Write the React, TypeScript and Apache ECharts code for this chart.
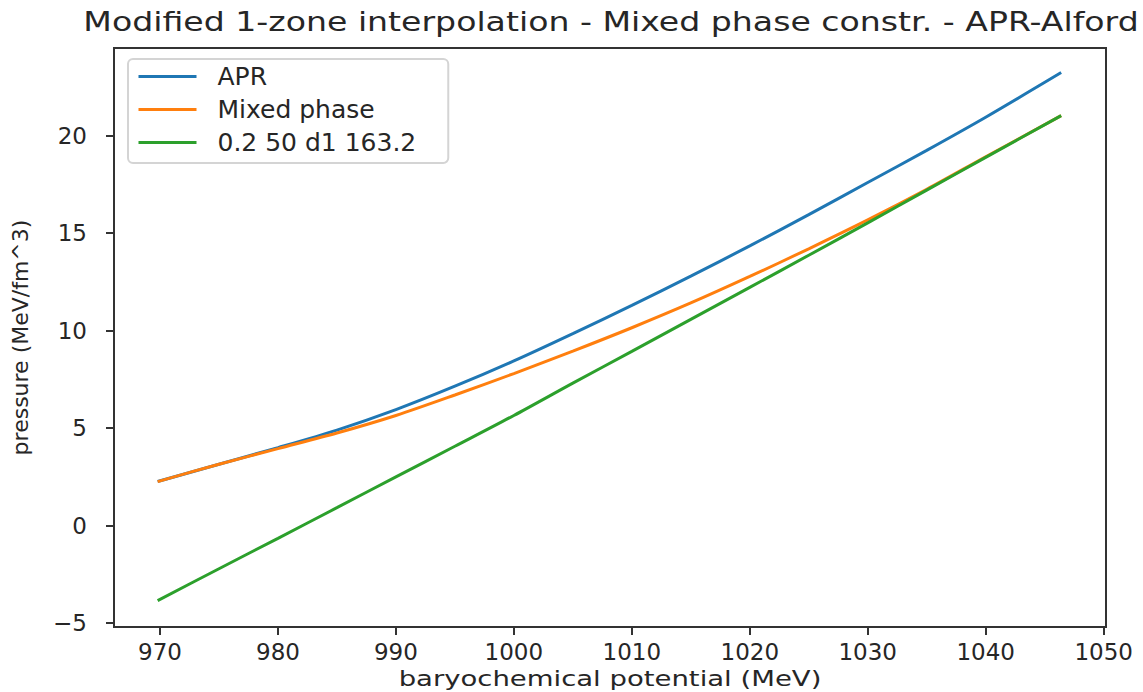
import React, { useEffect, useRef } from "react";
import * as echarts from "echarts";

const chartTitle = "Modified 1-zone interpolation - Mixed phase constr. - APR-Alford";
const xAxisTitle = "baryochemical potential (MeV)";
const yAxisTitle = "pressure (MeV/fm^3)";

const seriesNames = ["APR", "Mixed phase", "0.2 50 d1 163.2"];
const seriesColors = ["#1f77b4", "#ff7f0e", "#2ca02c"];

const muMeV = [969.8, 975, 980, 985, 990, 995, 1000, 1005, 1010, 1015, 1020, 1025, 1030, 1035, 1040, 1046.4];
const aprPressure = [2.26, 3.15, 4.0, 4.9, 5.95, 7.15, 8.45, 9.85, 11.3, 12.8, 14.35, 15.95, 17.6, 19.25, 20.95, 23.24];
const mixedPressure = [2.26, 3.15, 3.95, 4.75, 5.65, 6.7, 7.8, 8.95, 10.15, 11.42, 12.78, 14.2, 15.68, 17.25, 18.92, 21.03];
const fitPressure = [-3.85, -2.21, -0.65, 0.92, 2.5, 4.07, 5.65, 7.31, 8.94, 10.58, 12.22, 13.87, 15.53, 17.21, 18.89, 21.03];

const xTicks = [970, 980, 990, 1000, 1010, 1020, 1030, 1040, 1050];
const yTicks = [-5, 0, 5, 10, 15, 20];

const FONT = "DejaVu Sans";
const TEXT = "#262626";
const SPINE = "#333333";

export default function App() {
  const ref = useRef<HTMLDivElement>(null);

  useEffect(() => {
    if (!ref.current) return;
    const chart = echarts.init(ref.current, null, { renderer: "svg" });
    const allSeries = [aprPressure, mixedPressure, fitPressure];
    chart.setOption({
      animation: false,
      backgroundColor: "#ffffff",
      grid: {
        left: 114,
        right: 37,
        top: 48,
        bottom: 65,
        show: true,
        borderColor: SPINE,
        borderWidth: 2,
        backgroundColor: "transparent",
      },
      xAxis: {
        type: "value",
        min: 966.1,
        max: 1050.2,
        splitLine: { show: false },
        axisLine: { show: true, onZero: false, lineStyle: { color: SPINE, width: 2 } },
        axisTick: { show: true, length: 8, customValues: xTicks, lineStyle: { color: SPINE, width: 2 } },
        axisLabel: {
          customValues: xTicks,
          margin: 13,
          fontSize: 23,
          fontFamily: FONT,
          color: TEXT,
          formatter: (v: number) => String(v),
        },
      },
      yAxis: {
        type: "value",
        min: -5.2,
        max: 24.5,
        name: yAxisTitle,
        nameLocation: "middle",
        nameGap: 83,
        nameRotate: 90,
        nameTextStyle: { fontSize: 22, fontFamily: FONT, color: TEXT },
        splitLine: { show: false },
        axisLine: { show: true, onZero: false, lineStyle: { color: SPINE, width: 2 } },
        axisTick: { show: true, length: 8, customValues: yTicks, lineStyle: { color: SPINE, width: 2 } },
        axisLabel: {
          customValues: yTicks,
          margin: 27,
          fontSize: 23,
          fontFamily: FONT,
          color: TEXT,
          formatter: (v: number) => (v < 0 ? "\u2212" + Math.abs(v) : String(v)),
        },
      },
      legend: {
        orient: "vertical",
        left: 128,
        top: 59,
        padding: [5, 32, 8, 9],
        itemWidth: 58,
        itemHeight: 24,
        itemGap: 8,
        backgroundColor: "#ffffff",
        borderColor: "#d4d4d4",
        borderWidth: 2,
        borderRadius: 5,
        itemStyle: { opacity: 0, borderWidth: 0 },
        lineStyle: { width: 3 },
        textStyle: { fontSize: 25, fontFamily: FONT, color: TEXT, lineHeight: 25, padding: [0, 0, 0, 16] },
        data: seriesNames,
      },
      graphic: [
        {
          type: "text",
          x: 611,
          y: 22,
          scaleX: 1.275,
          style: {
            text: chartTitle,
            fontSize: 26,
            fontFamily: FONT,
            fill: TEXT,
            align: "center",
            verticalAlign: "middle",
          },
        },
        {
          type: "text",
          x: 610,
          y: 678,
          scaleX: 1.25,
          style: {
            text: xAxisTitle,
            fontSize: 22,
            fontFamily: FONT,
            fill: TEXT,
            align: "center",
            verticalAlign: "middle",
          },
        },
      ],
      series: seriesNames.map((name, i) => ({
        name,
        type: "line",
        symbol: "none",
        smooth: 0.3,
        data: muMeV.map((x, j) => [x, allSeries[i][j]]),
        lineStyle: { color: seriesColors[i], width: 3 },
        itemStyle: { color: seriesColors[i] },
        z: 2 + i,
      })),
    });
    return () => chart.dispose();
  }, []);

  return (
    <div
      ref={ref}
      style={{ position: "fixed", left: 0, top: 0, width: 1143, height: 692, background: "#fff" }}
    />
  );
}
